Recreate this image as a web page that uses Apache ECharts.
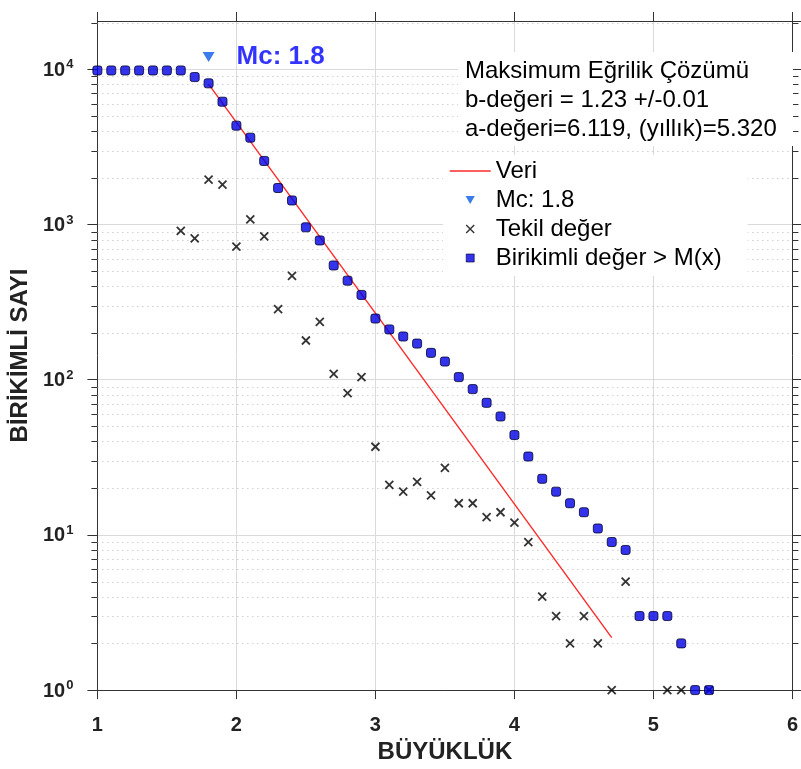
<!DOCTYPE html>
<html>
<head>
<meta charset="utf-8">
<script src="https://cdn.jsdelivr.net/npm/echarts@6/dist/echarts.min.js"></script>
<style>
  html, body { margin: 0; padding: 0; background: #fff; }
  #chart { width: 801px; height: 769px; }
</style>
</head>
<body>
<div id="chart"></div>
<script>
// ---- Data ----
var magnitudes = [1.0,1.1,1.2,1.3,1.4,1.5,1.6,1.7,1.8,1.9,2.0,2.1,2.2,2.3,2.4,2.5,2.6,2.7,2.8,2.9,3.0,3.1,3.2,3.3,3.4,3.5,3.6,3.7,3.8,3.9,4.0,4.1,4.2,4.3,4.4,4.5,4.6,4.7,4.8,4.9,5.0,5.1,5.2,5.3,5.4];
var cumulativeCounts = [9840,9840,9840,9840,9840,9840,9840,8920,8130,6190,4340,3630,2570,1720,1430,960,790,545,435,352,248,211,190,171,149,131,104,87,71,58,44,32,23,19,16,14,11,9,8,3,3,3,2,1,1];
var singleCounts = [null,null,null,null,null,null,910,815,1950,1810,720,1080,840,285,467,179,236,109,82,104,37,21,19,22,18,27,16,16,13,14,12,9,4,3,2,3,2,1,5,null,null,1,1,null,1];
var fitMag = [1.8, 4.7];
var fitCount = [8040, 2.18];
var mcMag = [1.8];
var mcCount = [12000];
var minorGridValues = [2,3,4,5,6,7,8,9,20,30,40,50,60,70,80,90,200,300,400,500,600,700,800,900,2000,3000,4000,5000,6000,7000,8000,9000,20000];
var xTicks = [1,2,3,4,5,6];
var infoLines = ['Maksimum Eğrilik Çözümü', 'b-değeri = 1.23 +/-0.01', 'a-değeri=6.119, (yıllık)=5.320'];
var legendNames = ['Veri', 'Mc: 1.8', 'Tekil değer', 'Birikimli değer > M(x)'];

var FF = '"Liberation Sans", Arial, Helvetica, sans-serif';

var ICON_X = 'path://M0,0L10,10M0,10L10,0';
var ICON_TRI_DOWN = 'path://M0,0L10,0L5,8.66Z';
var ICON_SQUARE = 'path://M0,0L10,0L10,10L0,10Z';

function pairs(xs, ys) {
  var out = [];
  for (var i = 0; i < xs.length; i++) {
    if (ys[i] !== null && ys[i] !== undefined) out.push([xs[i], ys[i]]);
  }
  return out;
}

var chart = echarts.init(document.getElementById('chart'), null, { renderer: 'canvas' });

var axisLineStyle = { color: '#333', width: 1 };

var option = {
  backgroundColor: '#ffffff',
  animation: false,
  textStyle: { fontFamily: FF },
  grid: { left: 97, right: 6, top: 21, bottom: 77, containLabel: false },
  xAxis: [
    {
      type: 'value', min: xTicks[0], max: xTicks[xTicks.length - 1], interval: 1, position: 'bottom',
      axisLine: { show: true, onZero: false, lineStyle: axisLineStyle },
      axisTick: { show: true, inside: false, length: 9, lineStyle: axisLineStyle },
      axisLabel: { margin: 25, fontSize: 20, fontWeight: 'bold', color: '#222', fontFamily: FF },
      splitLine: { show: true, lineStyle: { color: '#dadada', width: 1 } },
      name: 'BÜYÜKLÜK', nameLocation: 'middle', nameGap: 49,
      nameTextStyle: { fontSize: 24, fontWeight: 'bold', color: '#222', fontFamily: FF }
    },
    {
      type: 'value', min: xTicks[0], max: xTicks[xTicks.length - 1], interval: 1, position: 'top',
      axisLine: { show: true, onZero: false, lineStyle: axisLineStyle },
      axisTick: { show: true, inside: false, length: 9, lineStyle: axisLineStyle },
      axisLabel: { show: false },
      splitLine: { show: false }
    }
  ],
  yAxis: [
    {
      type: 'log', logBase: 10, min: 1, max: 20500, position: 'left',
      axisLine: { show: true, onZero: false, lineStyle: axisLineStyle },
      axisTick: { show: true, inside: false, length: 10, lineStyle: axisLineStyle },
      axisLabel: {
        margin: 24, showMaxLabel: false, color: '#222', fontFamily: FF,
        formatter: function (v) {
          var n = Math.round(Math.log10(v));
          return '{a|10}{b|' + n + '}';
        },
        rich: {
          a: { fontSize: 20, fontWeight: 'bold', color: '#222', fontFamily: FF, lineHeight: 22, verticalAlign: 'bottom' },
          b: { fontSize: 13, fontWeight: 'bold', color: '#222', fontFamily: FF, verticalAlign: 'top', padding: [0, 0, 0, 1] }
        }
      },
      splitLine: { show: true, lineStyle: { color: '#dadada', width: 1 } },
      name: 'BİRİKİMLİ SAYI', nameLocation: 'middle', nameGap: 60,
      nameTextStyle: { fontSize: 24, fontWeight: 'bold', color: '#222', fontFamily: FF }
    },
    {
      type: 'log', logBase: 10, min: 1, max: 20500, position: 'right',
      axisLine: { show: true, onZero: false, lineStyle: axisLineStyle },
      axisTick: { show: true, inside: false, length: 10, lineStyle: axisLineStyle },
      axisLabel: { show: false },
      splitLine: { show: false }
    }
  ],
  legend: {
    orient: 'vertical', left: 443, top: 155,
    itemWidth: 41, itemHeight: 8, itemGap: 5,
    symbolKeepAspect: true,
    backgroundColor: '#ffffff',
    padding: [4, 26, 6, 6],
    textStyle: { fontSize: 24, color: '#000', fontFamily: FF },
    data: [
      { name: legendNames[0], itemStyle: { color: 'rgba(0,0,0,0)', borderColor: 'rgba(0,0,0,0)', borderWidth: 0 }, lineStyle: { color: '#ff2a2a', width: 1.4 } },
      { name: legendNames[1], icon: ICON_TRI_DOWN, itemStyle: { color: '#0a5ae6' } },
      { name: legendNames[2], icon: ICON_X, itemStyle: { color: 'rgba(0,0,0,0)', borderColor: '#000', borderWidth: 1.4 } },
      { name: legendNames[3], icon: ICON_SQUARE, itemStyle: { color: '#0000e6', borderColor: '#000030', borderWidth: 0.8 } }
    ]
  },
  graphic: [
    { type: 'rect', left: 458, top: 52, z: 50, shape: { width: 335, height: 94 }, style: { fill: '#ffffff' } },
    { type: 'text', left: 465, top: 57, z: 51, style: { text: infoLines.join('\n'), font: '24px ' + FF, lineHeight: 29, fill: '#000' } }
  ],
  series: [
    {
      name: 'minorGrid', type: 'custom', xAxisIndex: 0, yAxisIndex: 0, silent: true, clip: false, z: 1,
      data: minorGridValues.map(function (v) { return [xTicks[0], v]; }),
      renderItem: function (params, api) {
        var y = Math.round(api.coord([api.value(0), api.value(1)])[1]) + 0.5;
        var cs = params.coordSys;
        var l = cs.x, r = cs.x + cs.width;
        return {
          type: 'group',
          children: [
            { type: 'line', shape: { x1: l, y1: y, x2: r, y2: y }, style: { stroke: '#b8b8b8', lineWidth: 1, lineDash: [1, 4] } },
            { type: 'line', shape: { x1: l - 6, y1: y, x2: l, y2: y }, style: { stroke: '#333', lineWidth: 1 } },
            { type: 'line', shape: { x1: r, y1: y, x2: r + 6, y2: y }, style: { stroke: '#333', lineWidth: 1 } }
          ]
        };
      }
    },
    {
      name: legendNames[0], type: 'line', symbol: 'none', showSymbol: false, z: 3,
      data: pairs(fitMag, fitCount),
      lineStyle: { color: '#ff2a2a', width: 1.4 },
      itemStyle: { color: '#ff2a2a' }
    },
    {
      name: legendNames[2], type: 'scatter', z: 4,
      symbol: ICON_X, symbolSize: 8,
      data: pairs(magnitudes, singleCounts),
      itemStyle: { color: 'rgba(0,0,0,0)', borderColor: '#000', borderWidth: 1.8 }
    },
    {
      name: legendNames[3], type: 'scatter', z: 5,
      symbol: 'roundRect', symbolSize: 9,
      data: pairs(magnitudes, cumulativeCounts),
      itemStyle: { color: '#0000e6', borderColor: '#000030', borderWidth: 1 }
    },
    {
      name: legendNames[1], type: 'scatter', z: 6,
      symbol: 'triangle', symbolRotate: 180, symbolSize: [12, 10],
      data: pairs(mcMag, mcCount),
      itemStyle: { color: '#0a5ae6' },
      label: {
        show: true, position: 'right', distance: 22,
        formatter: 'Mc: 1.8',
        fontSize: 26, fontWeight: 'bold', color: '#0000ff', fontFamily: FF
      }
    }
  ]
};

chart.setOption(option);
</script>
</body>
</html>
